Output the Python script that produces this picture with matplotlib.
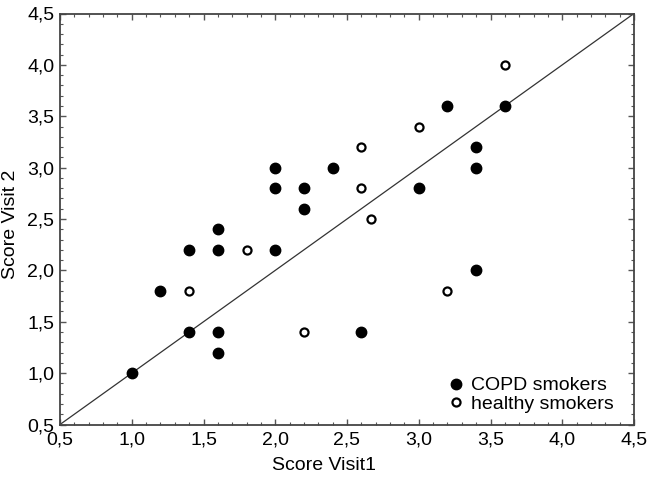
import matplotlib
matplotlib.use("Agg")
import matplotlib.pyplot as plt
from matplotlib.ticker import MultipleLocator, FuncFormatter

plt.rcParams['font.family'] = ['Liberation Sans', 'DejaVu Sans']

copd_x = [1.0, 1.2, 1.4, 1.4, 1.6, 1.6, 1.6, 1.6, 2.0, 2.0, 2.0, 2.2, 2.2, 2.4, 2.6, 3.0, 3.2, 3.4, 3.4, 3.4, 3.6]
copd_y = [1.0, 1.8, 2.2, 1.4, 2.4, 2.2, 1.4, 1.2, 3.0, 2.8, 2.2, 2.8, 2.6, 3.0, 1.4, 2.8, 3.6, 3.2, 3.0, 2.0, 3.6]
healthy_x = [1.4, 1.8, 2.2, 2.6, 2.6, 2.67, 3.0, 3.2, 3.6]
healthy_y = [1.8, 2.2, 1.4, 3.2, 2.8, 2.5, 3.4, 1.8, 4.0]
ident = [0.5, 4.5]

W, H = 652, 479
fig = plt.figure(figsize=(W/100, H/100), dpi=100)
ax = fig.add_axes([60/W, 1 - 424.5/H, 574/W, 411/H])

ax.plot(ident, ident, color='#333333', lw=0.9, zorder=1)
ax.plot(copd_x, copd_y, 'o', ms=7.5, mfc='black', mec='black', ls='none', label='COPD smokers', zorder=3)
ax.plot(healthy_x, healthy_y, 'o', ms=5.8, mfc='white', mec='black', mew=1.6, ls='none', label='healthy smokers', zorder=3)

ax.set_xlim(0.5, 4.5)
ax.set_ylim(0.5, 4.5)
fmt = FuncFormatter(lambda v, p: f"{v:.1f}".replace('.', ','))
for a in (ax.xaxis, ax.yaxis):
    a.set_major_locator(MultipleLocator(0.5))
    a.set_minor_locator(MultipleLocator(0.1))
    a.set_major_formatter(fmt)
ax.tick_params(which='both', direction='in', top=True, right=True, color='#555555')
ax.tick_params(which='major', length=4, width=1, labelsize=14)
ax.tick_params(axis='x', which='major', pad=5)
ax.tick_params(axis='y', which='major', pad=4)
ax.tick_params(which='minor', length=2, width=0.8)
for s in ax.spines.values():
    s.set_color('#444444')
    s.set_linewidth(1.3)

fig.text(324/W, 1 - 466/H, 'Score Visit1', fontsize=14, ha='center', va='center')
fig.text(11/W, 1 - 224/H, 'Score Visit 2', fontsize=14, ha='center', va='center', rotation=90)

leg = ax.legend(loc='lower right', frameon=False, fontsize=14, handletextpad=0.27,
                borderaxespad=0, borderpad=0, labelspacing=0.05, handlelength=1.0,
                bbox_to_anchor=(614/W, 1 - 413/H), bbox_transform=fig.transFigure)

fig.savefig('out.png', dpi=100)
